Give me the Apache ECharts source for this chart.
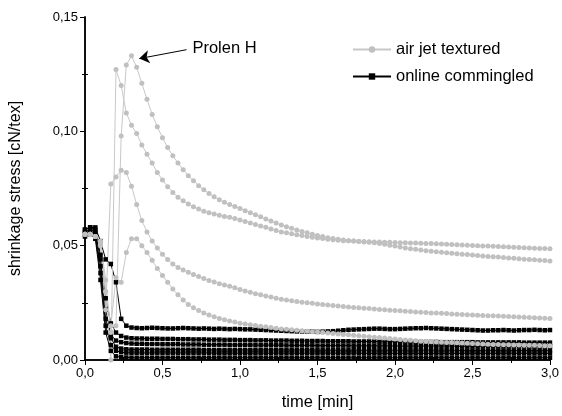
<!DOCTYPE html>
<html>
<head>
<meta charset="utf-8">
<title>shrinkage stress</title>
<script src="https://cdn.jsdelivr.net/npm/echarts@6.0.0/dist/echarts.min.js"></script>
<style>html,body{margin:0;padding:0;background:#fff}</style>
</head>
<body>
<div id="main" style="width:562px;height:416px"></div>
<script>
// sampling interval of the tester: one reading every 2 s
var sampleStepMin = 2 / 60;

var xTickLabels = ['0,0', '0,5', '1,0', '1,5', '2,0', '2,5', '3,0'];
var yTickLabels = ['0,00', '0,05', '0,10', '0,15'];

// air jet textured (grey), A = Prolen H
var airA = [
  .055,.055,.054,.052,.035,.012,.015,.098,.129,.133,
  .128,.121,.114,.1074,.102,.0972,.0929,.0893,.0861,.0832,
  .0806,.0784,.0762,.0745,.0728,.0714,.0701,.0690,.0680,.0671,
  .0663,.0653,.0644,.0635,.0626,.0617,.0608,.0599,.0590,.0583,
  .0576,.0569,.0562,.0556,.0550,.0545,.0540,.0535,.0531,.0528,
  .0525,.0522,.0520,.0518,.0516,.0515,.0513,.0510,.0506,.0502,
  .0498,.0494,.0490,.0487,.0484,.0481,.0478,.0476,.0473,.0471,
  .0469,.0467,.0465,.0463,.0461,.0459,.0457,.0455,.0453,.0451,
  .0450,.0448,.0446,.0445,.0443,.0441,.0440,.0438,.0436,.0435,.0433];
var airB = [
  .055,.055,.054,.051,.030,.000,.127,.120,.108,.1027,
  .099,.094,.090,.0861,.0820,.0787,.0758,.0733,.0712,.0696,
  .0682,.0670,.0660,.0651,.0644,.0638,.0633,.0628,.0624,.0619,
  .0612,.0606,.0599,.0593,.0586,.0580,.0573,.0566,.0560,.0556,
  .0552,.0548,.0544,.0540,.0537,.0534,.0531,.0528,.0526,.0524,
  .0522,.0521,.0520,.0519,.0518,.0517,.0516,.0516,.0515,.0515,
  .0514,.0513,.0513,.0512,.0512,.0511,.0510,.0509,.0508,.0507,
  .0506,.0505,.0504,.0503,.0502,.0501,.0500,.0499,.0498,.0497,
  .0496,.0495,.0494,.0493,.0492,.0491,.0490,.0489,.0488,.0488,.0487];
var airC = [
  .055,.055,.054,.051,.022,.077,.080,.083,.082,.076,
  .068,.061,.056,.052,.049,.0462,.044,.042,.0405,.0394,
  .0384,.0374,.0365,.0356,.0348,.0341,.0334,.0328,.0322,.0316,
  .0308,.0302,.0296,.0290,.0285,.0280,.0275,.0270,.0266,.0262,
  .0259,.0256,.0253,.0250,.0248,.0245,.0243,.0240,.0238,.0236,
  .0234,.0232,.0230,.0228,.0226,.0225,.0223,.0221,.0220,.0218,
  .0216,.0215,.0213,.0212,.0210,.0209,.0208,.0206,.0205,.0204,
  .0203,.0201,.0200,.0199,.0198,.0197,.0196,.0195,.0194,.0193,
  .0192,.0191,.0190,.0189,.0188,.0187,.0186,.0185,.0184,.0183,.0182];
var airD = [
  .055,.055,.054,.050,.030,.015,.036,.034,.047,.053,
  .053,.050,.047,.0436,.040,.037,.034,.031,.0285,.0262,
  .0243,.0228,.0216,.0206,.0197,.0189,.0182,.0176,.0171,.0166,
  .0161,.0157,.0154,.0151,.0148,.0145,.0142,.0139,.0136,.0134,
  .0132,.0130,.0128,.0126,.0124,.0122,.0120,.0118,.0116,.0114,
  .0112,.0110,.0108,.0106,.0104,.0102,.0100,.0098,.0096,.0094,
  .0092,.0090,.0088,.0086,.0084,.0082,.0081,.0080,.0079,.0078,
  .0077,.0076,.0075,.0074,.0073,.0072,.0071,.0070,.0069,.0068,
  .0068,.0067,.0067,.0066,.0066,.0065,.0065,.0064,.0063,.0062,.0062];

// online commingled (black)
var onK1 = [
  .057,.058,.058,.052,.044,.042,.034,.018,.0150,.0142,
  .0140,.0139,.0140,.0141,.0140,.0139,.0138,.0138,.0139,.0140,
  .0139,.0138,.0137,.0138,.0137,.0136,.0137,.0136,.0135,.0136,
  .0135,.0134,.0134,.0133,.0132,.0131,.0130,.0129,.0128,.0127,
  .0126,.0125,.0125,.0124,.0124,.0123,.0124,.0125,.0126,.0128,
  .0130,.0132,.0133,.0134,.0135,.0136,.0137,.0137,.0136,.0135,
  .0135,.0136,.0137,.0138,.0139,.0139,.0140,.0139,.0138,.0137,
  .0136,.0135,.0134,.0133,.0132,.0131,.0130,.0129,.0129,.0130,
  .0130,.0131,.0130,.0129,.0130,.0131,.0131,.0132,.0131,.0130,.0131];
var onK2 = [
  .057,.058,.057,.046,.027,.016,.012,.0105,.0098,.0095,
  .0094,.0094,.0093,.0093,.0093,.0092,.0092,.0092,.0091,.0091,
  .0091,.0090,.0090,.0090,.0089,.0089,.0089,.0088,.0088,.0088,
  .0087,.0087,.0087,.0086,.0086,.0086,.0085,.0085,.0085,.0085,
  .0084,.0084,.0084,.0083,.0083,.0083,.0083,.0082,.0082,.0082,
  .0082,.0082,.0081,.0081,.0081,.0081,.0081,.0080,.0080,.0080,
  .0080,.0080,.0080,.0079,.0079,.0079,.0079,.0079,.0079,.0078,
  .0078,.0078,.0078,.0078,.0078,.0078,.0077,.0077,.0077,.0077,
  .0077,.0077,.0077,.0077,.0077,.0076,.0076,.0076,.0076,.0076,.0076];
var onK3 = [
  .056,.057,.056,.044,.022,.011,.0085,.0078,.0074,.0072,
  .0071,.0071,.0070,.0070,.0070,.0069,.0069,.0069,.0069,.0068,
  .0068,.0068,.0068,.0067,.0067,.0067,.0067,.0067,.0066,.0066,
  .0066,.0066,.0066,.0065,.0065,.0065,.0065,.0065,.0065,.0064,
  .0064,.0064,.0064,.0064,.0064,.0063,.0063,.0063,.0063,.0063,
  .0063,.0063,.0062,.0062,.0062,.0062,.0062,.0062,.0062,.0062,
  .0061,.0061,.0061,.0061,.0061,.0061,.0061,.0061,.0061,.0061,
  .0061,.0061,.0060,.0060,.0060,.0060,.0060,.0060,.0060,.0060,
  .0060,.0060,.0060,.0060,.0060,.0060,.0060,.0060,.0060,.0060,.0060];
var onK4 = [
  .055,.056,.055,.041,.018,.0095,.0058,.0050,.0047,.0046,
  .0046,.0046,.0046,.0045,.0045,.0045,.0045,.0045,.0045,.0045,
  .0045,.0045,.0045,.0044,.0044,.0044,.0044,.0044,.0044,.0044,
  .0044,.0044,.0044,.0044,.0044,.0044,.0044,.0044,.0044,.0044,
  .0044,.0044,.0044,.0044,.0044,.0043,.0043,.0043,.0043,.0043,
  .0043,.0043,.0043,.0043,.0043,.0043,.0043,.0043,.0043,.0043,
  .0043,.0043,.0043,.0043,.0043,.0043,.0043,.0043,.0043,.0043,
  .0043,.0043,.0042,.0042,.0042,.0042,.0042,.0042,.0042,.0042,
  .0042,.0042,.0042,.0042,.0042,.0042,.0042,.0042,.0042,.0042,.0042];
var onK5 = [
  .055,.055,.054,.038,.015,.0065,.0040,.0034,.0032,.0031,
  .0031,.0031,.0031,.0031,.0031,.0031,.0031,.0031,.0031,.0031,
  .0031,.0031,.0031,.0031,.0031,.0030,.0030,.0030,.0030,.0030,
  .0030,.0030,.0030,.0030,.0030,.0030,.0030,.0030,.0030,.0030,
  .0030,.0030,.0030,.0030,.0030,.0030,.0030,.0030,.0030,.0030,
  .0030,.0030,.0030,.0030,.0029,.0029,.0029,.0029,.0029,.0029,
  .0029,.0029,.0029,.0029,.0029,.0029,.0029,.0029,.0029,.0029,
  .0029,.0029,.0029,.0029,.0029,.0029,.0029,.0029,.0029,.0029,
  .0029,.0029,.0029,.0029,.0029,.0029,.0029,.0029,.0029,.0029,.0029];
var onK6 = [
  .054,.055,.053,.035,.012,.0040,.0016,.0012,.0011,.0010,
  .0010,.0010,.0010,.0010,.0010,.0010,.0010,.0010,.0010,.0010,
  .0010,.0010,.0010,.0010,.0010,.0010,.0010,.0010,.0010,.0010,
  .0010,.0010,.0010,.0010,.0010,.0010,.0010,.0010,.0010,.0010,
  .0010,.0010,.0010,.0010,.0010,.0010,.0010,.0010,.0010,.0010,
  .0010,.0010,.0010,.0010,.0010,.0010,.0010,.0010,.0010,.0010,
  .0010,.0010,.0010,.0010,.0010,.0010,.0010,.0010,.0010,.0010,
  .0010,.0010,.0010,.0010,.0010,.0010,.0010,.0010,.0010,.0010,
  .0010,.0010,.0010,.0010,.0010,.0010,.0010,.0010,.0010,.0010,.0010];

var airSeries = [airA, airB, airC, airD];
var onlineSeries = [onK1, onK2, onK3, onK4, onK5, onK6];

var font = 'Liberation Sans, Arial, Helvetica, sans-serif';

var myChart = echarts.init(document.getElementById('main'));

function toPoints(vals) {
    return vals.map(function (v, i) {
        return [i * sampleStepMin, v];
    });
}

var series = [];
onlineSeries.forEach(function (vals) {
    series.push({
        name: 'online commingled',
        type: 'line',
        data: toPoints(vals),
        symbol: 'rect',
        symbolSize: 4.5,
        lineStyle: { width: 1, color: '#000' },
        itemStyle: { color: '#000' },
        silent: true
    });
});
airSeries.forEach(function (vals, idx) {
    var s = {
        name: 'air jet textured',
        type: 'line',
        data: toPoints(vals),
        symbol: 'circle',
        symbolSize: 5,
        lineStyle: { width: 1, color: '#c8c8c8' },
        itemStyle: { color: '#c0c0c0' },
        silent: true
    };
    if (idx === 0) {
        // Prolen H arrow
        s.markLine = {
            silent: true,
            symbol: ['none', 'arrow'],
            symbolSize: 10,
            lineStyle: { color: '#000', width: 1, type: 'solid' },
            label: {
                show: true, position: 'start', formatter: 'Prolen H',
                color: '#000', fontSize: 16.5, fontFamily: font, distance: 6
            },
            data: [[{ coord: [0.655, 0.1357] }, { coord: [0.35, 0.1318] }]]
        };
    }
    series.push(s);
});

var mirrorTick = { show: true, inside: true, length: 5, lineStyle: { color: '#000', width: 1 } };
var mirrorMinor = { show: true, splitNumber: 2, length: 3, lineStyle: { color: '#000', width: 1 } };

var option = {
    animation: false,
    backgroundColor: '#fff',
    grid: { left: 83, right: 10, top: 17, bottom: 54 },
    legend: {
        data: ['air jet textured', 'online commingled'],
        orient: 'vertical',
        left: 352,
        top: 41,
        padding: 0,
        itemWidth: 38,
        itemHeight: 8,
        itemGap: 10,
        textStyle: { fontSize: 16.5, fontFamily: font, color: '#000' }
    },
    xAxis: [{
        type: 'value', min: 0, max: 3, interval: 0.5, position: 'bottom',
        name: 'time [min]', nameLocation: 'middle', nameGap: 34,
        nameTextStyle: { fontSize: 16.5, fontFamily: font, color: '#000' },
        axisLine: { show: true, lineStyle: { color: '#000', width: 1.5 } },
        axisTick: { show: true, inside: false, length: 5, lineStyle: { color: '#000', width: 1 } },
        minorTick: { show: false },
        axisLabel: {
            fontSize: 13, fontFamily: font, color: '#000', margin: 7,
            formatter: function (v) { return xTickLabels[Math.round(v / 0.5)]; }
        },
        splitLine: { show: false }
    }, {
        type: 'value', min: 0, max: 3, interval: 0.5, position: 'top',
        axisLine: { show: true, lineStyle: { color: '#000', width: 1.5 } },
        axisTick: mirrorTick, minorTick: mirrorMinor,
        axisLabel: { show: false }, splitLine: { show: false }
    }, {
        type: 'value', min: 0, max: 3, interval: 0.5, position: 'bottom',
        axisLine: { show: false },
        axisTick: { show: false, inside: true },
        minorTick: mirrorMinor,
        axisLabel: { show: false }, splitLine: { show: false }
    }],
    yAxis: [{
        type: 'value', min: 0, max: 0.15, interval: 0.05, position: 'left',
        name: 'shrinkage stress [cN/tex]', nameLocation: 'middle', nameGap: 61,
        nameTextStyle: { fontSize: 16, fontFamily: font, color: '#000' },
        axisLine: { show: true, lineStyle: { color: '#000', width: 1.5 } },
        axisTick: { show: true, inside: false, length: 5, lineStyle: { color: '#000', width: 1 } },
        minorTick: { show: false },
        axisLabel: {
            fontSize: 13, fontFamily: font, color: '#000', margin: 7,
            formatter: function (v) { return yTickLabels[Math.round(v / 0.05)]; }
        },
        splitLine: { show: false }
    }, {
        type: 'value', min: 0, max: 0.15, interval: 0.05, position: 'right',
        axisLine: { show: true, lineStyle: { color: '#000', width: 1.5 } },
        axisTick: mirrorTick, minorTick: mirrorMinor,
        axisLabel: { show: false }, splitLine: { show: false }
    }, {
        type: 'value', min: 0, max: 0.15, interval: 0.05, position: 'left',
        axisLine: { show: false },
        axisTick: { show: false, inside: true },
        minorTick: mirrorMinor,
        axisLabel: { show: false }, splitLine: { show: false }
    }],
    series: series
};
myChart.setOption(option);
</script>
</body>
</html>
